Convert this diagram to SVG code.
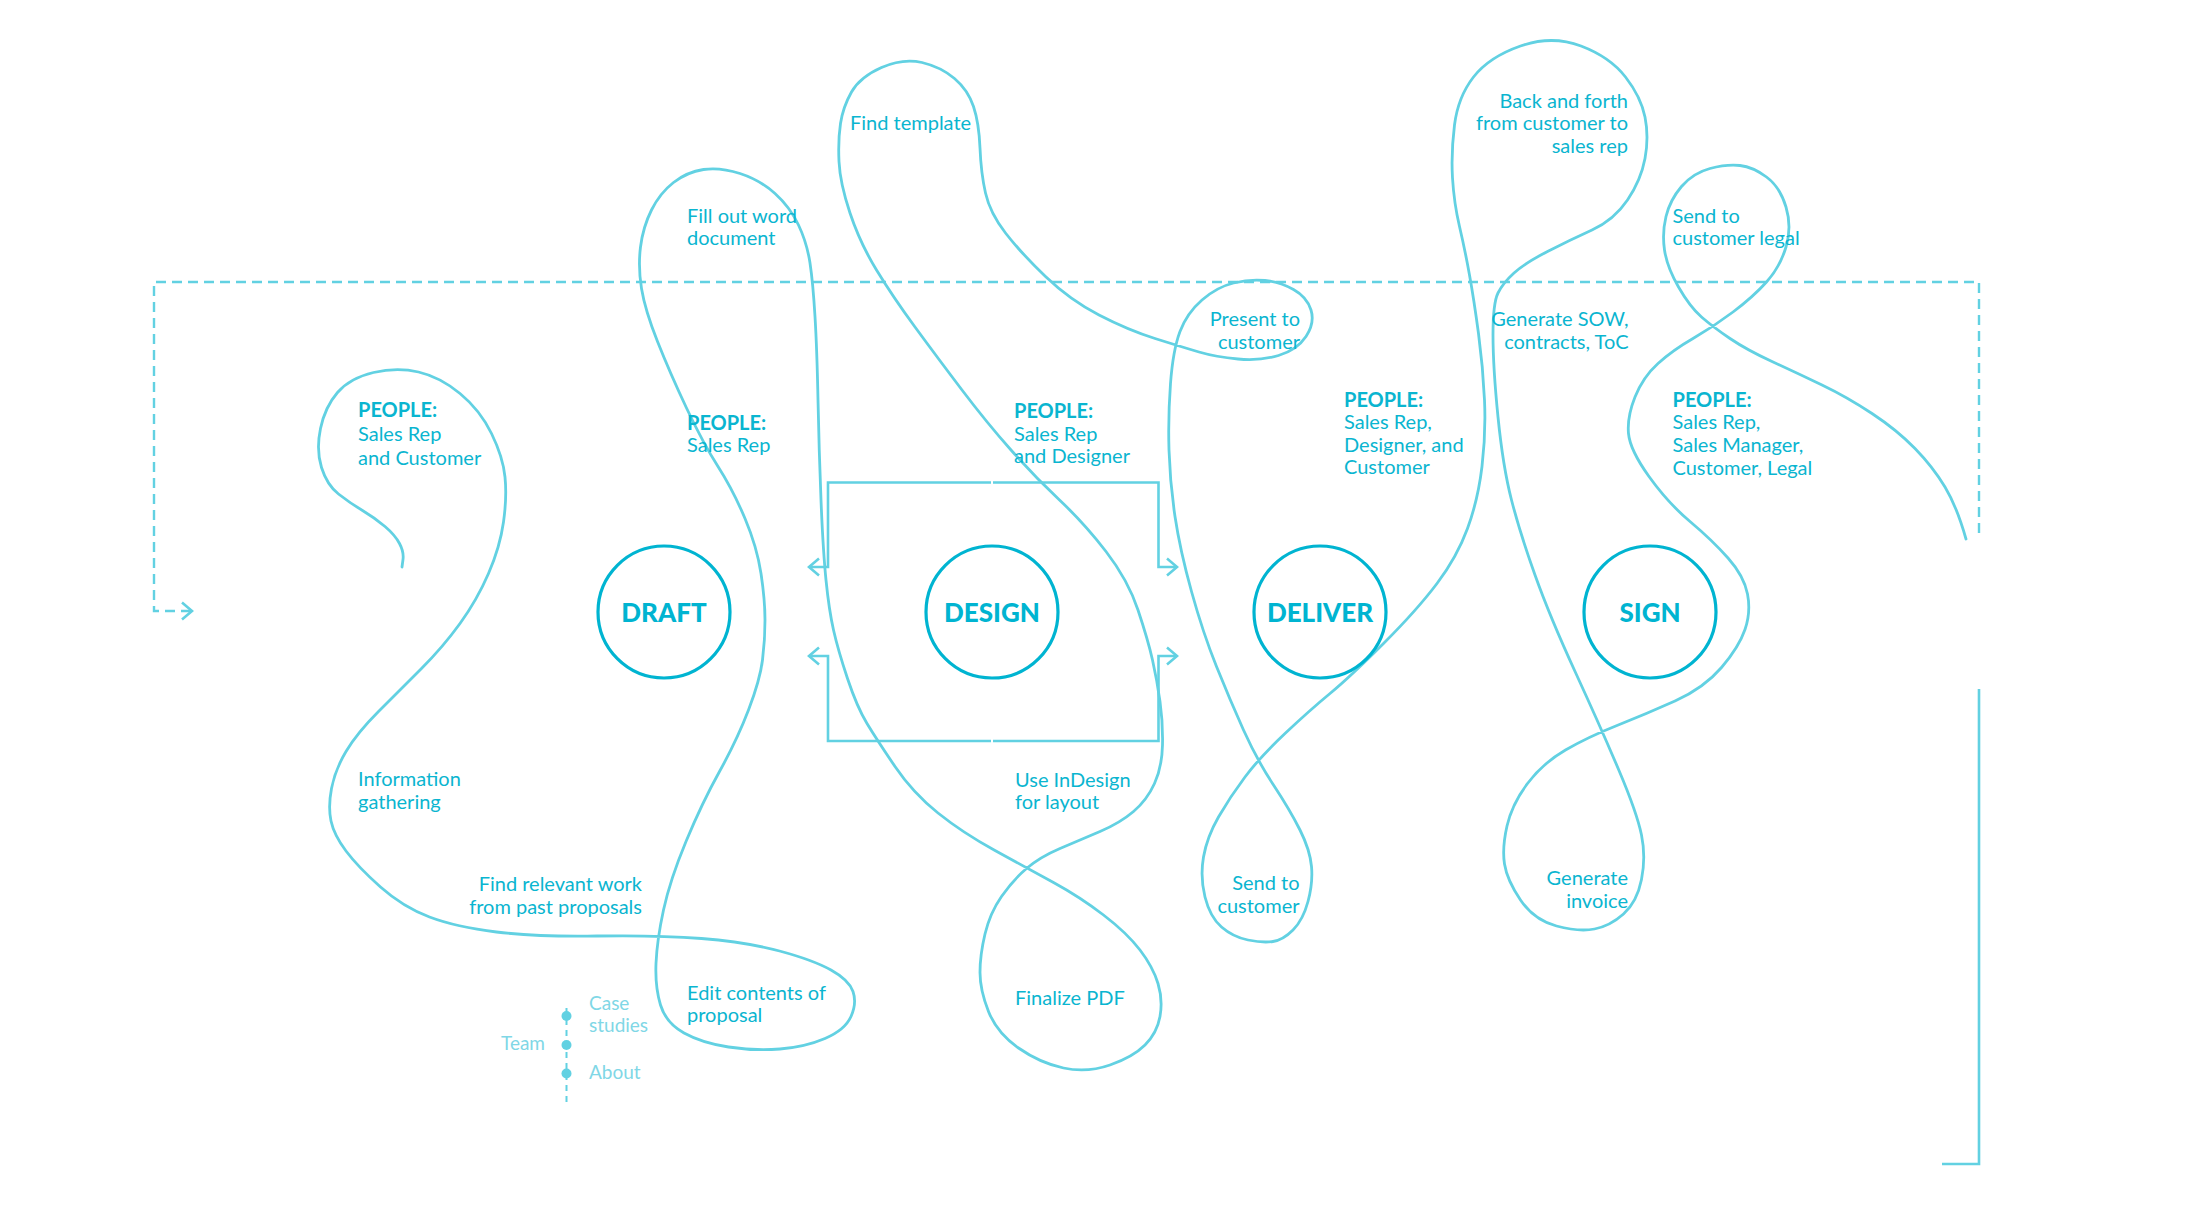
<svg xmlns="http://www.w3.org/2000/svg" width="2200" height="1225" viewBox="0 0 2200 1225">
<defs>
<style>
.curve{fill:none;stroke:#62d1e2;stroke-width:2.8;stroke-linecap:round;stroke-linejoin:round}
.line{fill:none;stroke:#62d1e2;stroke-width:2.6}
.dash{fill:none;stroke:#62d1e2;stroke-width:2.4;stroke-dasharray:10 6}
.node circle{fill:none;stroke:#00b4d1;stroke-width:3.2}
.node text{font-family:Lato,"Liberation Sans",sans-serif;font-weight:900;font-size:26px;fill:#00b4d1;text-anchor:middle}
.lbl{font-family:Lato,"Liberation Sans",sans-serif;font-size:20px;fill:#0ab5d0}
.b{font-weight:700}
.r{text-anchor:end}
.nav{font-family:Lato,"Liberation Sans",sans-serif;font-size:19px;fill:#80d7e6}
</style>
<marker id="chev" viewBox="-12 -11 14 22" markerWidth="14" markerHeight="22" refX="0" refY="0" orient="auto" markerUnits="userSpaceOnUse">
<path d="M-10,-8.5 L0,0 L-10,8.5" fill="none" stroke="#62d1e2" stroke-width="2.6"/>
</marker>
</defs>
<rect width="2200" height="1225" fill="#ffffff"/>

<g id="connectors">
<path class="dash" d="M1979,533 V282 H154 V611 H192" marker-end="url(#chev)"/>
<path class="line" d="M1979,689 V1164 H1942"/>
<path class="line" d="M991,482.5 H828 V567 H809" marker-end="url(#chev)"/>
<path class="line" d="M993,482.5 H1158.5 V567 H1177" marker-end="url(#chev)"/>
<path class="line" d="M991,741 H828 V656 H809" marker-end="url(#chev)"/>
<path class="line" d="M993,741 H1158.5 V656 H1177" marker-end="url(#chev)"/>
<path id="journey" class="curve" d="M402,567 L403,559.5 Q404,552 399.5,543.5 Q395,535 385,526.5 Q375,518 362.5,510.5 Q350,503 338.5,494 Q327,485 321.5,467.5 Q316,450 320.5,428.5 Q325,407 337.5,392.5 Q350,378 373.5,372.5 Q397,367 418.5,372 Q440,377 460,393.5 Q480,410 491.5,433.5 Q503,457 505,477 Q507,497 503.5,522 Q500,547 488.5,573.5 Q477,600 460,623.5 Q443,647 421.5,668.5 Q400,690 378.5,711.5 Q357,733 346,751.5 Q335,770 331.5,788.5 Q328,807 331,821 Q334,835 346,851 Q358,867 380.5,887 Q403,907 429.5,917 Q456,927 496.5,932 Q537,937 597,936 Q657,935 701.5,938.5 Q746,942 779.5,951 Q813,960 831,970 Q849,980 853,991.5 Q857,1003 851,1016.5 Q845,1030 825,1038.5 Q805,1047 780,1049 Q755,1051 728.5,1047 Q702,1043 684,1033 Q666,1023 660.5,1005 Q655,987 656,963.5 Q657,940 663.5,910 Q670,880 686,841.5 Q702,803 719.5,771.5 Q737,740 748.5,710 Q760,680 762.5,660 Q765,640 765,620 Q765,600 761,573.5 Q757,547 745,518.5 Q733,490 718,466.5 Q703,443 686.5,408 Q670,373 657.5,341.5 Q645,310 641.5,288.5 Q638,267 640.5,247 Q643,227 651.5,210 Q660,193 673.5,182.5 Q687,172 703.5,169.5 Q720,167 740,173.5 Q760,180 775,193.5 Q790,207 798.5,225 Q807,243 810,263 Q813,283 815,316.5 Q817,350 818,400 Q819,450 821,500 Q823,550 826,580 Q829,610 833.5,630 Q838,650 847.5,678.5 Q857,707 867,723.5 Q877,740 895,766.5 Q913,793 938,813 Q963,833 995,850.5 Q1027,868 1053.5,882.5 Q1080,897 1103.5,915 Q1127,933 1140,950 Q1153,967 1158,983.5 Q1163,1000 1160,1016.5 Q1157,1033 1145,1045 Q1133,1057 1110,1065 Q1087,1073 1063.5,1068 Q1040,1063 1018.5,1048 Q997,1033 988.5,1011.5 Q980,990 980,972.5 Q980,955 985,934 Q990,913 1001.5,896.5 Q1013,880 1026.5,868.5 Q1040,857 1060,848.5 Q1080,840 1100,831.5 Q1120,823 1133.5,811.5 Q1147,800 1154.5,783.5 Q1162,767 1162.5,745 Q1163,723 1160,701.5 Q1157,680 1152.5,660 Q1148,640 1138,610 Q1128,580 1106,551.5 Q1084,523 1059.5,500 Q1035,477 1011,450 Q987,423 962,390 Q937,357 915,327 Q893,297 876.5,270 Q860,243 850,213 Q840,183 839,161.5 Q838,140 840.5,123.5 Q843,107 851.5,92 Q860,77 881.5,67.5 Q903,58 922,62.5 Q941,67 954.5,78.5 Q968,90 973.5,106.5 Q979,123 980,148 Q981,173 985.5,193 Q990,213 1005.5,233 Q1021,253 1045.5,276.5 Q1070,300 1099,315 Q1128,330 1155,338.5 Q1182,347 1199,352 Q1216,357 1238,359 Q1260,361 1278.5,355.5 Q1297,350 1306,336.5 Q1315,323 1311,310 Q1307,297 1293.5,289.5 Q1280,282 1265,280.5 Q1250,279 1233.5,283 Q1217,287 1202,300 Q1187,313 1180,331.5 Q1173,350 1170.5,383.5 Q1168,417 1169,450 Q1170,483 1175,516.5 Q1180,550 1191.5,591.5 Q1203,633 1216.5,666.5 Q1230,700 1243.5,730 Q1257,760 1273.5,785 Q1290,810 1300,830 Q1310,850 1311.5,866.5 Q1313,883 1308,901.5 Q1303,920 1293,930 Q1283,940 1273,941.5 Q1263,943 1248,940 Q1233,937 1221.5,927 Q1210,917 1205,897 Q1200,877 1203.5,857 Q1207,837 1218.5,817 Q1230,797 1245,777 Q1260,757 1285,733.5 Q1310,710 1330,693.5 Q1350,677 1383.5,643.5 Q1417,610 1437,583.5 Q1457,557 1467.5,528.5 Q1478,500 1482,466.5 Q1486,433 1484.5,400 Q1483,367 1478.5,333.5 Q1474,300 1469.5,275 Q1465,250 1459.5,226.5 Q1454,203 1452.5,178 Q1451,153 1454.5,125 Q1458,97 1473.5,77 Q1489,57 1520.5,46 Q1552,35 1581,46 Q1610,57 1625.5,77 Q1641,97 1645,117 Q1649,137 1645,158.5 Q1641,180 1627.5,200 Q1614,220 1592,230 Q1570,240 1547.5,251.5 Q1525,263 1514,273 Q1503,283 1498,293 Q1493,303 1493,335 Q1493,367 1498,417 Q1503,467 1511.5,500 Q1520,533 1535,575 Q1550,617 1575.5,672.5 Q1601,728 1619,770.5 Q1637,813 1641.5,835 Q1646,857 1641.5,879.5 Q1637,902 1623.5,914 Q1610,926 1594.5,929 Q1579,932 1556.5,926 Q1534,920 1520.5,900 Q1507,880 1504.5,864 Q1502,848 1507,826 Q1512,804 1527.5,783.5 Q1543,763 1565.5,750 Q1588,737 1617,725.5 Q1646,714 1675,701 Q1704,688 1721.5,667.5 Q1739,647 1745,629.5 Q1751,612 1747.5,594 Q1744,576 1728,558 Q1712,540 1690,521.5 Q1668,503 1649,476.5 Q1630,450 1628.5,433.5 Q1627,417 1635,397 Q1643,377 1658,363.5 Q1673,350 1693,338.5 Q1713,327 1733,312 Q1753,297 1766.5,282 Q1780,267 1786,247 Q1792,227 1786,207 Q1780,187 1766.5,177 Q1753,167 1740,165.5 Q1727,164 1710,168.5 Q1693,173 1681.5,186.5 Q1670,200 1666,216.5 Q1662,233 1664.5,250 Q1667,267 1678.5,287 Q1690,307 1701.5,317 Q1713,327 1730,338.5 Q1747,350 1772,361.5 Q1797,373 1822,385 Q1847,397 1872,413.5 Q1897,430 1915,448.5 Q1933,467 1945,487 Q1957,507 1966,539"/>
</g>

<g id="node-draft" class="node">
<circle cx="664" cy="612" r="66"/>
<text x="664" y="622">DRAFT</text>
</g>
<g id="node-design" class="node">
<circle cx="992" cy="612" r="66"/>
<text x="992" y="622">DESIGN</text>
</g>
<g id="node-deliver" class="node">
<circle cx="1320" cy="612" r="66"/>
<text x="1320" y="622">DELIVER</text>
</g>
<g id="node-sign" class="node">
<circle cx="1650" cy="612" r="66"/>
<text x="1650" y="622">SIGN</text>
</g>

<g id="labels">
<text class="lbl"><tspan class="b" x="358" y="416.5">PEOPLE:</tspan><tspan x="358" y="440.5">Sales Rep</tspan><tspan x="358" y="464.5">and Customer</tspan></text>
<text class="lbl"><tspan x="358" y="786">Information</tspan><tspan x="358" y="809">gathering</tspan></text>
<text class="lbl r"><tspan x="642" y="891">Find relevant work</tspan><tspan x="642" y="913.5">from past proposals</tspan></text>
<text class="lbl"><tspan x="687" y="222.5">Fill out word</tspan><tspan x="687" y="245">document</tspan></text>
<text class="lbl"><tspan class="b" x="687" y="429.5">PEOPLE:</tspan><tspan x="687" y="452">Sales Rep</tspan></text>
<text class="lbl"><tspan x="687" y="1000">Edit contents of</tspan><tspan x="687" y="1022">proposal</tspan></text>
<text class="lbl" x="850" y="130">Find template</text>
<text class="lbl"><tspan class="b" x="1014" y="418">PEOPLE:</tspan><tspan x="1014" y="440.5">Sales Rep</tspan><tspan x="1014" y="463">and Designer</tspan></text>
<text class="lbl"><tspan x="1015" y="786.5">Use InDesign</tspan><tspan x="1015" y="809">for layout</tspan></text>
<text class="lbl" x="1015" y="1005">Finalize PDF</text>
<text class="lbl r"><tspan x="1300" y="326">Present to</tspan><tspan x="1300" y="348.5">customer</tspan></text>
<text class="lbl"><tspan class="b" x="1344" y="406.5">PEOPLE:</tspan><tspan x="1344" y="429">Sales Rep,</tspan><tspan x="1344" y="451.5">Designer, and</tspan><tspan x="1344" y="474">Customer</tspan></text>
<text class="lbl r"><tspan x="1299.5" y="890">Send to</tspan><tspan x="1299.5" y="912.5">customer</tspan></text>
<text class="lbl r"><tspan x="1628" y="107.5">Back and forth</tspan><tspan x="1628" y="130">from customer to</tspan><tspan x="1628" y="152.5">sales rep</tspan></text>
<text class="lbl r"><tspan x="1628.5" y="326">Generate SOW,</tspan><tspan x="1628.5" y="348.5">contracts, ToC</tspan></text>
<text class="lbl r"><tspan x="1628" y="885">Generate</tspan><tspan x="1628" y="907.5">invoice</tspan></text>
<text class="lbl"><tspan x="1672.5" y="222.5">Send to</tspan><tspan x="1672.5" y="245">customer legal</tspan></text>
<text class="lbl"><tspan class="b" x="1672.5" y="406.5">PEOPLE:</tspan><tspan x="1672.5" y="429.3">Sales Rep,</tspan><tspan x="1672.5" y="452">Sales Manager,</tspan><tspan x="1672.5" y="474.5">Customer, Legal</tspan></text>
</g>

<g id="nav">
<line class="dash" x1="566.5" y1="1008" x2="566.5" y2="1102" style="stroke-dasharray:6 5;stroke-width:2"/>
<circle cx="566.5" cy="1016" r="5" fill="#62d1e2"/>
<circle cx="566.5" cy="1045" r="5" fill="#62d1e2"/>
<circle cx="566.5" cy="1073.5" r="5" fill="#62d1e2"/>
<text class="nav" x="545" y="1050" text-anchor="end">Team</text>
<text class="nav"><tspan x="589" y="1010">Case</tspan><tspan x="589" y="1031.5">studies</tspan></text>
<text class="nav" x="589" y="1078.5">About</text>
</g>
</svg>
